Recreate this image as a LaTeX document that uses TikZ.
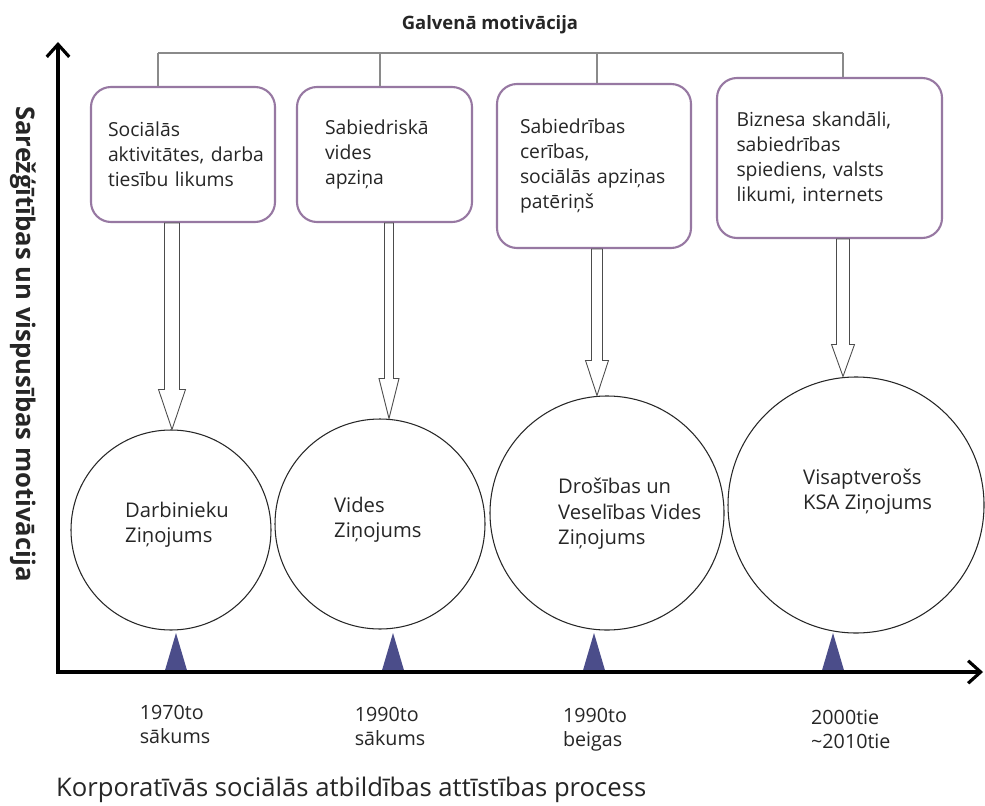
\documentclass[tikz,border=0pt]{standalone}
\usepackage{fontspec}
\setmainfont{Open Sans}
\usepackage{tikz}
\usetikzlibrary{positioning,arrows.meta,calc}
\definecolor{BoxPurple}{HTML}{9778A2}
\definecolor{MarkBlue}{HTML}{4B4D8A}
\definecolor{LineGray}{HTML}{8A8A8A}
\definecolor{TextGray}{HTML}{262626}

\begin{document}
\begin{tikzpicture}[
  font=\fontsize{11}{14.2}\selectfont,
  motiv/.style={draw=BoxPurple,line width=1.2pt,rounded corners=4mm,inner sep=0pt,align=left,text=TextGray},
  report/.style={circle,draw=black!85,line width=0.6pt,inner sep=0pt},
  reptext/.style={align=left,anchor=west,text=TextGray,font=\fontsize{11.5}{14.5}\selectfont},
  hollow/.style={draw=black!70,line width=0.5pt,fill=white},
  bracket/.style={draw=LineGray,line width=0.9pt},
  axis/.style={line width=1.8pt,{Straight Barb[length=2.5mm,width=4.5mm]}-{Straight Barb[length=2.5mm,width=4.5mm]}},
  period/.style={align=left,text=TextGray,font=\fontsize{11.2}{13.8}\selectfont}
]
\fill[white] (0,0) rectangle (19.7,16.1);
\useasboundingbox (0,0) rectangle (19.7,16.1);

% Main motivation
\node[font=\bfseries\fontsize{10.5}{12}\selectfont,text=TextGray] (title) at (9.80,15.60) {Galvenā motivācija};

\node[motiv,minimum width=3.68cm,minimum height=2.70cm,text width=3.00cm] (motiv1) at (3.66,13.01)
  {Sociālās\\ aktivitātes,~darba\\ tiesību likums};
\node[motiv,minimum width=3.50cm,minimum height=2.70cm,text width=2.38cm] (motiv2) at (7.69,13.01)
  {Sabiedriskā\\ vides\\ apziņa};
\node[motiv,minimum width=3.88cm,minimum height=3.28cm,text width=2.96cm] (motiv3) at (11.88,12.78)
  {Sabiedrības\\ cerības,\\ sociālās~apziņas\\ patēriņš};
\node[motiv,minimum width=4.50cm,minimum height=3.20cm,text width=3.72cm] (motiv4) at (16.59,12.94)
  {Biznesa skandāli,\\ sabiedrības\\ spiediens, valsts\\ likumi, internets};

\draw[bracket] (3.16,15.04) -- (16.86,15.04);
\foreach \dx [count=\i] in {3.16,7.60,11.94,16.86} {
  \path (\dx,15.04) coordinate (drop\i);
  \draw[bracket] (drop\i) -- (motiv\i.north -| drop\i);
}

% Reports
\foreach \cx/\cy/\d [count=\i] in {3.42/5.50/4.00, 7.60/5.62/4.20, 12.14/5.84/4.68, 17.12/6.00/5.12} {
  \node[report,minimum size=\d cm] (report\i) at (\cx,\cy) {};
}
\node[reptext] (reptext1) at (2.38,5.61) {Darbinieku\\ Ziņojums};
\node[reptext] (reptext2) at (6.56,5.70) {Vides\\ Ziņojums};
\node[reptext] (reptext3) at (11.04,5.82) {Drošības un\\ Veselības Vides\\ Ziņojums};
\node[reptext] (reptext4) at (15.94,6.27) {Visaptverošs\\ KSA Ziņojums};

% Hollow arrows from motivation to report
\foreach \ax/\sw/\hw/\hl [count=\i] in {3.44/0.15cm/0.27cm/0.80cm, 7.78/0.09cm/0.20cm/0.80cm,
                                        11.94/0.11cm/0.23cm/0.70cm, 16.86/0.13cm/0.23cm/0.64cm} {
  \path (\ax,0) coordinate (shaft\i);
  \draw[hollow] let \p1=(motiv\i.south -| shaft\i), \p2=(report\i.north -| shaft\i) in
    (\x1-\sw,\y1) -- (\x1-\sw,\y2+\hl) -- (\x1-\hw,\y2+\hl) -- (\x1,\y2)
    -- (\x1+\hw,\y2+\hl) -- (\x1+\sw,\y2+\hl) -- (\x1+\sw,\y1) -- cycle;
}

% Time axis
\foreach \mx in {3.52,7.86,11.88,16.66} {
  \fill[MarkBlue] (\mx-0.23,2.66) -- (\mx+0.23,2.66) -- (\mx,3.44) -- cycle;
}
\coordinate (origin) at (1.16,2.66);
\coordinate (ytop) at (1.16,15.26);
\coordinate (xend) at (19.66,2.66);
\draw[axis] (ytop) -- (origin) -- (xend);

\node[rotate=-90,font=\bfseries\fontsize{14.6}{16}\selectfont,text=TextGray] (ylabel) at (0.46,9.22)
  {Sarežģītības un vispusības motivācija};

\node[period] (year1) at (3.50,1.61) {1970to\\ sākums};
\node[period] (year2) at (7.80,1.57) {1990to\\ sākums};
\node[period] (year3) at (11.90,1.51) {1990to\\ beigas};
\node[period,anchor=west] (year4) at (16.10,1.51) {2000tie\\ \textasciitilde2010tie};

\node[anchor=west,font=\fontsize{14.6}{16}\selectfont,text=TextGray] (caption) at (1.00,0.30)
  {Korporatīvās sociālās atbildības attīstības process};

\end{tikzpicture}
\end{document}
